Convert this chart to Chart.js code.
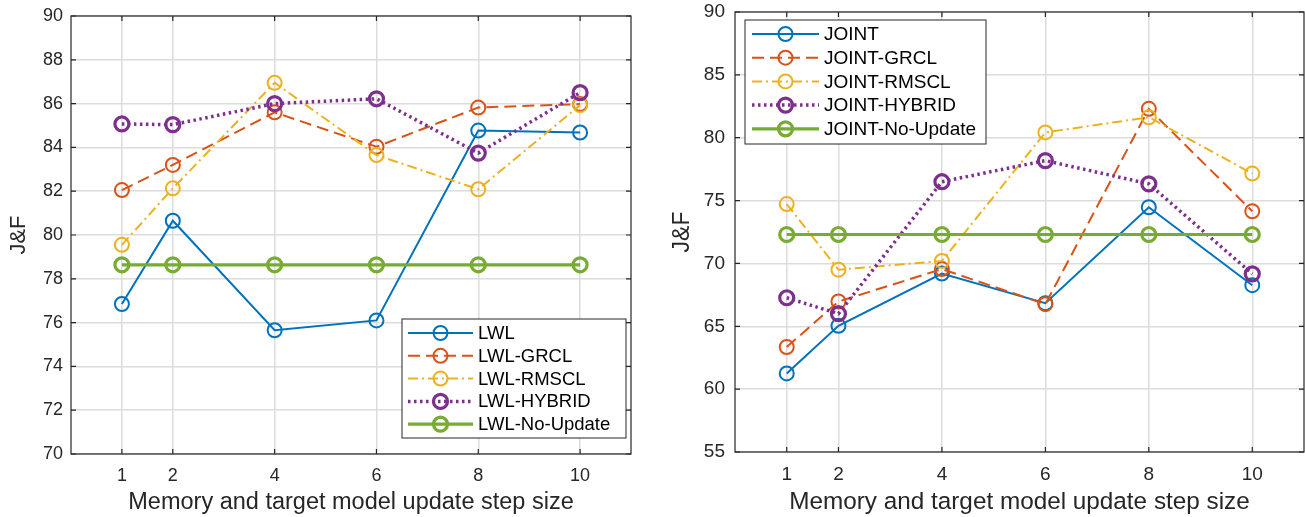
<!DOCTYPE html>
<html>
<head>
<meta charset="utf-8">
<script src="https://cdn.jsdelivr.net/npm/chart.js@4.4.1/dist/chart.umd.min.js"></script>
<style>
  body { margin: 0; background: #fff; width: 1305px; height: 517px; position: relative; overflow: hidden; }
  canvas { position: absolute; top: 0; }
</style>
</head>
<body>
<canvas id="left" width="650" height="517" style="left:0"></canvas>
<canvas id="right" width="650" height="517" style="left:655px"></canvas>
<script>
const steps = [1, 2, 4, 6, 8, 10];
const xTicks = [1, 2, 4, 6, 8, 10];
const xTitle = 'Memory and target model update step size';
const yTitle = 'J&F';

// left panel (LWL)
const lwlNames = ['LWL', 'LWL-GRCL', 'LWL-RMSCL', 'LWL-HYBRID', 'LWL-No-Update'];
const lwl       = [76.85, 80.65, 75.65, 76.1, 84.77, 84.68];
const lwlGrcl   = [82.05, 83.2, 85.6, 84.03, 85.82, 85.98];
const lwlRmscl  = [79.55, 82.13, 86.95, 83.65, 82.09, 85.93];
const lwlHybrid = [85.07, 85.04, 86.0, 86.22, 83.74, 86.5];
const lwlNoUpd  = [78.64, 78.64, 78.64, 78.64, 78.64, 78.64];

// right panel (JOINT)
const jointNames = ['JOINT', 'JOINT-GRCL', 'JOINT-RMSCL', 'JOINT-HYBRID', 'JOINT-No-Update'];
const joint       = [61.25, 65.04, 69.2, 66.84, 74.47, 68.27];
const jointGrcl   = [63.35, 66.97, 69.55, 66.76, 82.3, 74.15];
const jointRmscl  = [74.72, 69.5, 70.2, 80.42, 81.63, 77.15];
const jointHybrid = [67.27, 66.0, 76.5, 78.18, 76.33, 69.17];
const jointNoUpd  = [72.3, 72.3, 72.3, 72.3, 72.3, 72.3];

const colors = ['#0072BD', '#D95319', '#EDB120', '#7E2F8E', '#77AC30'];
const dashes = [[], [12, 6], [10, 4, 2, 4], [2.5, 3.5], []];
const widths = [2, 2, 2, 3.5, 3.2];
const markerWidths = [2, 2, 2, 3.2, 3.2];

function makeSets(names, series) {
  return series.map((vals, i) => ({
    label: names[i],
    data: steps.map((x, k) => ({ x, y: vals[k] })),
    borderColor: colors[i],
    borderWidth: widths[i],
    borderDash: dashes[i],
    pointStyle: 'circle',
    pointRadius: 7,
    pointBorderWidth: markerWidths[i],
    pointBorderColor: colors[i],
    pointBackgroundColor: 'rgba(0,0,0,0)',
    tension: 0,
    order: 5 - i,
  }));
}

// axes box, inward ticks, MATLAB-style legend
const boxPlugin = {
  id: 'box',
  afterDraw(chart, args, opts) {
    const { ctx, chartArea: a, scales } = chart;
    ctx.save();
    ctx.strokeStyle = '#262626';
    ctx.lineWidth = 1.2;
    ctx.strokeRect(a.left, a.top, a.right - a.left, a.bottom - a.top);
    ctx.beginPath();
    xTicks.forEach(v => {
      const px = scales.x.getPixelForValue(v);
      ctx.moveTo(px, a.bottom); ctx.lineTo(px, a.bottom - 5);
      ctx.moveTo(px, a.top); ctx.lineTo(px, a.top + 5);
    });
    scales.y.ticks.forEach(t => {
      const py = scales.y.getPixelForValue(t.value);
      ctx.moveTo(a.left, py); ctx.lineTo(a.left + 5, py);
      ctx.moveTo(a.right, py); ctx.lineTo(a.right - 5, py);
    });
    ctx.stroke();

    const L = opts.legend;
    ctx.fillStyle = '#fff';
    ctx.fillRect(L.x, L.y, L.w, L.h);
    ctx.strokeStyle = '#262626';
    ctx.lineWidth = 1;
    ctx.strokeRect(L.x, L.y, L.w, L.h);
    ctx.font = L.font + 'px "Liberation Sans", Arial, sans-serif';
    ctx.textBaseline = 'middle';
    chart.data.datasets.forEach((ds, i) => {
      const y = L.y + L.first + i * L.row;
      ctx.strokeStyle = ds.borderColor;
      ctx.lineWidth = ds.borderWidth;
      ctx.setLineDash(ds.borderDash);
      ctx.beginPath();
      ctx.moveTo(L.x0, y); ctx.lineTo(L.x1, y);
      ctx.stroke();
      ctx.setLineDash([]);
      ctx.lineWidth = ds.pointBorderWidth;
      ctx.beginPath();
      ctx.arc((L.x0 + L.x1) / 2, y, ds.pointRadius, 0, Math.PI * 2);
      ctx.stroke();
      ctx.fillStyle = '#000';
      ctx.fillText(ds.label, L.tx, y + 1);
    });
    ctx.restore();
  }
};

function makeChart(id, names, series, yMin, yMax, yStep, lay) {
  const font = { family: '"Liberation Sans", Arial, sans-serif' };
  return new Chart(document.getElementById(id), {
    type: 'line',
    data: { datasets: makeSets(names, series) },
    plugins: [boxPlugin],
    options: {
      responsive: false,
      animation: false,
      layout: { autoPadding: false, padding: { top: lay.top, right: lay.right, left: 0, bottom: 0 } },
      plugins: {
        legend: { display: false },
        tooltip: { enabled: false },
        box: { legend: lay.legend },
      },
      scales: {
        x: {
          type: 'linear',
          min: 0,
          max: 11,
          afterBuildTicks: s => { s.ticks = xTicks.map(v => ({ value: v })); },
          afterFit: s => { s.height = lay.xh; s.paddingLeft = 0; s.paddingRight = 0; },
          grid: { color: '#dcdcdc', lineWidth: 1.5, drawTicks: false },
          border: { display: false },
          ticks: { color: '#262626', padding: 11, autoSkip: false, maxRotation: 0,
                   font: { ...font, size: lay.tick } },
          title: { display: true, text: xTitle, color: '#262626', padding: 0,
                   font: { ...font, size: lay.xtf } },
        },
        y: {
          min: yMin,
          max: yMax,
          afterFit: s => { s.width = lay.yw; s.paddingTop = 0; s.paddingBottom = 0; },
          grid: { color: '#dcdcdc', lineWidth: 1.5, drawTicks: false },
          border: { display: false },
          ticks: { stepSize: yStep, color: '#262626', padding: lay.ypad,
                   font: { ...font, size: lay.tick } },
          title: { display: true, text: yTitle, color: '#262626',
                   padding: { top: lay.ytp, bottom: 0 }, font: { ...font, size: lay.ytf } },
        },
      },
    },
  });
}

makeChart('left', lwlNames, [lwl, lwlGrcl, lwlRmscl, lwlHybrid, lwlNoUpd], 70, 90, 2, {
  top: 16, right: 19, xh: 63, yw: 71, ypad: 8, tick: 18, ytp: 6, ytf: 22, xtf: 23.5,
  legend: { x: 402, y: 319, w: 224, h: 119, first: 14, row: 22.8, x0: 408, x1: 473, tx: 478, font: 18.5 },
});

makeChart('right', jointNames, [joint, jointGrcl, jointRmscl, jointHybrid, jointNoUpd], 55, 90, 5, {
  top: 12, right: 1, xh: 65, yw: 80, ypad: 10, tick: 19, ytp: 14, ytf: 23, xtf: 24.3,
  legend: { x: 90, y: 20, w: 241, h: 124, first: 14, row: 23.7, x0: 97, x1: 164, tx: 169, font: 19 },
});
</script>
</body>
</html>
